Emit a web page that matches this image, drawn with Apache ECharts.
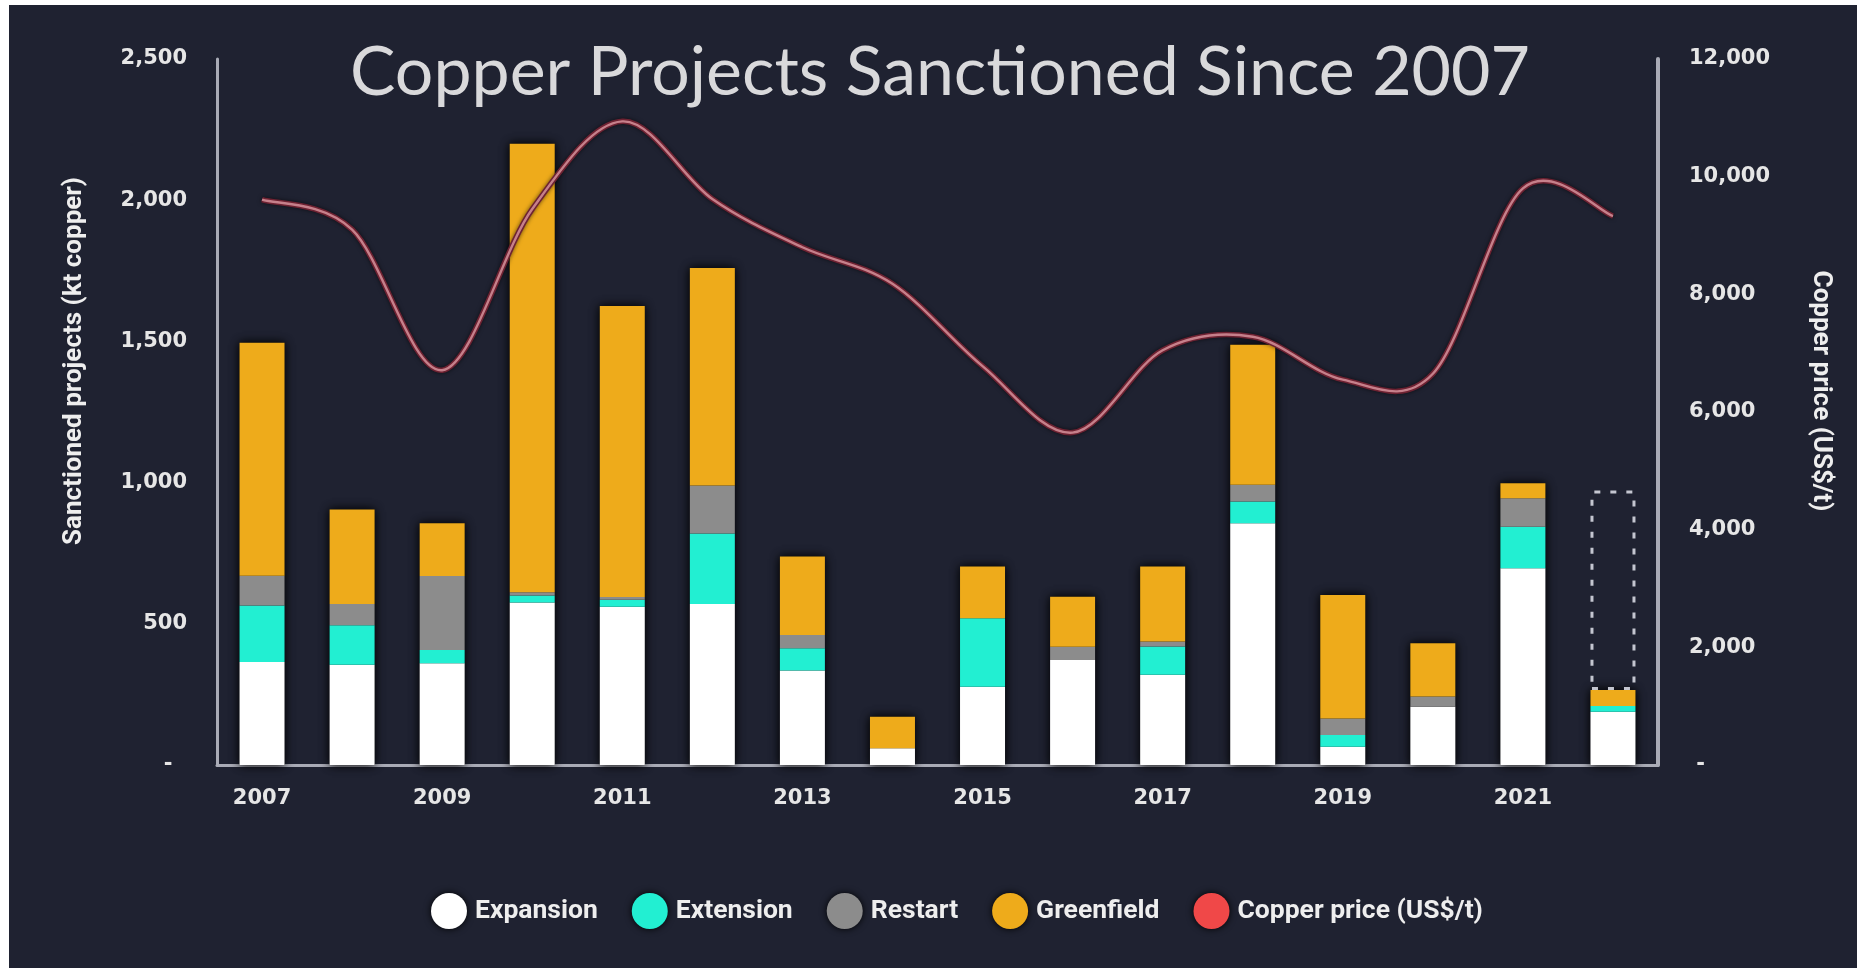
<!DOCTYPE html>
<html>
<head>
<meta charset="utf-8">
<script src="https://cdn.jsdelivr.net/npm/echarts@6/dist/echarts.min.js"></script>
<style>
  html, body { margin: 0; padding: 0; background: #ffffff; width: 1857px; height: 968px; overflow: hidden; }
  #chart { position: absolute; left: 9px; top: 5px; width: 1848px; height: 963px; background: #1f2231; }
</style>
</head>
<body>
<div id="chart"></div>
<script>
// Sanctioned copper projects by type (kt copper) and copper price (US$/t)
const years = ['2007','2008','2009','2010','2011','2012','2013','2014','2015','2016','2017','2018','2019','2020','2021','2022'];
const expansion  = [365, 355, 360, 575, 560, 570, 335,  59, 277, 372, 320, 856,  65, 206, 697, 189];
const extension  = [200, 140,  47,  25,  25, 250,  78,   0, 243,   0, 100,  77,  41,   0, 147,  20];
const restart    = [105,  75, 262,  12,  10, 170,  47,   0,   0,  47,  17,  59,  59,  37, 101,   0];
const greenfield = [825, 335, 187,1588,1030, 770, 278, 112, 183, 177, 266, 496, 437, 188,  53,  57];
// remaining 2022 pipeline, shown as an open dashed box above the 2022 bar
const pipeline   = [null,null,null,null,null,null,null,null,null,null,null,null,null,null,null, 706];
const copperPrice = [9610, 9100, 6710, 9450, 10940, 9620, 8800, 8180, 6780, 5650, 7050, 7280, 6550, 6650, 9800, 9330];

const seriesNames = ['Expansion', 'Extension', 'Restart', 'Greenfield', 'Copper price (US$/t)'];
const colors = { expansion: '#ffffff', extension: '#22efd2', restart: '#8c8c8c', greenfield: '#eeab1b', legendRed: '#f04848' };

const totals = years.map((_, i) => expansion[i] + extension[i] + restart[i] + greenfield[i]);

const numFont = 'DejaVu Sans';
const textFont = 'Roboto, "Liberation Sans", sans-serif';
const BAR_W = 45;

const chart = echarts.init(document.getElementById('chart'), null, { renderer: 'canvas' });

function stackBar(name, data, color) {
  return {
    name, type: 'bar', stack: 'projects', data, barWidth: BAR_W, barGap: '-100%',
    itemStyle: { color }, z: 3, emphasis: { disabled: true }
  };
}

// Smooth price curve (Catmull-Rom through every yearly point, positioned by the axes)
function renderPriceCurve(params, api) {
  if (params.dataIndex !== 0) return null;
  const pts = copperPrice.map((v, i) => api.coord([i, v]));
  const n = pts.length;
  let d = 'M' + pts[0][0] + ',' + pts[0][1];
  for (let i = 0; i < n - 1; i++) {
    const p0 = pts[Math.max(i - 1, 0)], p1 = pts[i], p2 = pts[i + 1], p3 = pts[Math.min(i + 2, n - 1)];
    const c1 = [p1[0] + (p2[0] - p0[0]) / 6, p1[1] + (p2[1] - p0[1]) / 6];
    const c2 = [p2[0] - (p3[0] - p1[0]) / 6, p2[1] - (p3[1] - p1[1]) / 6];
    d += ' C' + c1[0] + ',' + c1[1] + ' ' + c2[0] + ',' + c2[1] + ' ' + p2[0] + ',' + p2[1];
  }
  return {
    type: 'group',
    children: [
      { type: 'path', shape: { pathData: d }, style: { fill: null, stroke: '#6e2232', lineWidth: 5.5, shadowBlur: 4, shadowColor: 'rgba(0,0,0,0.6)' } },
      { type: 'path', shape: { pathData: d }, style: { fill: null, stroke: '#c6808b', lineWidth: 2.4 } }
    ]
  };
}

chart.setOption({
  animation: false,
  backgroundColor: '#1f2231',
  grid: { left: 208, right: 199, top: 54, bottom: 203, containLabel: false },
  graphic: [
    {
      type: 'text', x: 931, y: 68,
      style: { text: 'Copper Projects Sanctioned Since 2007', textAlign: 'center', textVerticalAlign: 'middle',
               fill: '#d9d9db', font: '400 68px Lato, "Open Sans", sans-serif' }
    },
    {
      type: 'text', x: 65, y: 356, rotation: Math.PI / 2,
      style: { text: 'Sanctioned projects (kt copper)', textAlign: 'center', textVerticalAlign: 'middle',
               fill: '#eeeeee', font: 'bold 26px ' + textFont }
    },
    {
      type: 'text', x: 1811, y: 386, rotation: -Math.PI / 2,
      style: { text: 'Copper price (US$/t)', textAlign: 'center', textVerticalAlign: 'middle',
               fill: '#eeeeee', font: 'bold 26px ' + textFont }
    }
  ],
  legend: {
    left: 417, top: 883,
    icon: 'circle', itemWidth: 36, itemHeight: 36, itemGap: 34,
    itemStyle: { shadowBlur: 7, shadowColor: 'rgba(0,0,0,0.95)' },
    textStyle: { color: '#eeeeee', fontSize: 26.5, fontWeight: 'bold', fontFamily: textFont, padding: [0, 0, 0, 3] },
    data: [
      { name: seriesNames[0], itemStyle: { color: colors.expansion } },
      { name: seriesNames[1], itemStyle: { color: colors.extension } },
      { name: seriesNames[2], itemStyle: { color: colors.restart } },
      { name: seriesNames[3], itemStyle: { color: colors.greenfield } },
      { name: seriesNames[4], itemStyle: { color: colors.legendRed } }
    ],
    selectedMode: false
  },
  xAxis: {
    type: 'category', data: years,
    axisLine: { show: true, lineStyle: { color: '#a9abb6', width: 3 } },
    axisTick: { show: false },
    axisLabel: { interval: 1, color: '#e6e6e6', fontSize: 21, fontWeight: 'bold', fontFamily: numFont, margin: 23 }
  },
  yAxis: [
    {
      type: 'value', min: 0, max: 2500, interval: 500, position: 'left',
      axisLine: { show: true, lineStyle: { color: '#a9abb6', width: 3 } },
      axisTick: { show: false }, splitLine: { show: false },
      axisLabel: {
        color: '#e6e6e6', fontSize: 21, fontWeight: 'bold', fontFamily: numFont, margin: 30,
        formatter: v => v === 0 ? '-  ' : v.toLocaleString('en-US')
      }
    },
    {
      type: 'value', min: 0, max: 12000, interval: 2000, position: 'right',
      axisLine: { show: true, lineStyle: { color: '#a9abb6', width: 4 } },
      axisTick: { show: false }, splitLine: { show: false },
      axisLabel: {
        color: '#e6e6e6', fontSize: 21, fontWeight: 'bold', fontFamily: numFont, margin: 31,
        formatter: v => v === 0 ? ' -' : v.toLocaleString('en-US')
      }
    }
  ],
  series: [
    {
      // dark halo behind each stacked column
      name: 'halo', type: 'bar', data: totals, barWidth: BAR_W, barGap: '-100%', z: 2,
      itemStyle: { color: '#06070b', borderColor: '#06070b', borderWidth: 5, shadowBlur: 10, shadowColor: 'rgba(0,0,0,0.95)' },
      emphasis: { disabled: true }, silent: true
    },
    stackBar(seriesNames[0], expansion, colors.expansion),
    stackBar(seriesNames[1], extension, colors.extension),
    stackBar(seriesNames[2], restart, colors.restart),
    stackBar(seriesNames[3], greenfield, colors.greenfield),
    {
      name: 'pipeline', type: 'bar', stack: 'projects', data: pipeline, barWidth: BAR_W, barGap: '-100%', z: 3,
      itemStyle: { color: 'rgba(0,0,0,0)', borderColor: '#c4c6d0', borderWidth: 3, borderType: [6, 10] },
      emphasis: { disabled: true }, silent: true
    },
    {
      name: seriesNames[4], type: 'custom', yAxisIndex: 1, z: 5, clip: false, silent: true,
      data: copperPrice.map((v, i) => [i, v]),
      encode: { x: 0, y: 1 },
      itemStyle: { color: colors.legendRed },
      renderItem: renderPriceCurve
    }
  ]
});
</script>
</body>
</html>
